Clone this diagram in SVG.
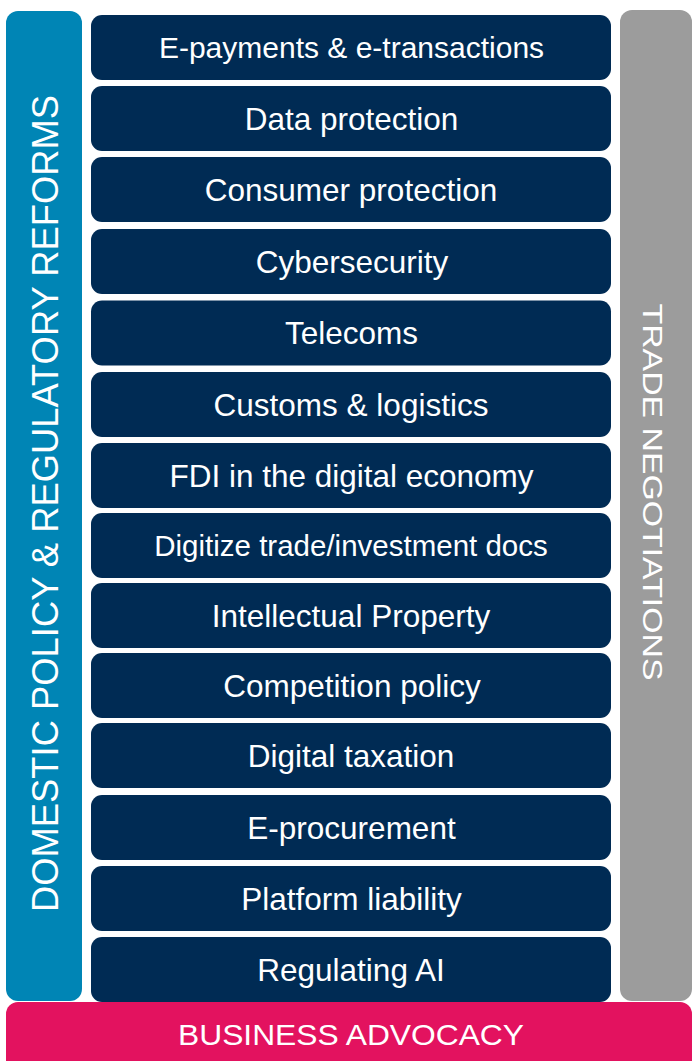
<svg xmlns="http://www.w3.org/2000/svg" width="693" height="1061" viewBox="0 0 693 1061">
  <style>
    .item rect { fill: #002B54; }
    .item text { fill: #FFFFFF; font-family: "Liberation Sans", Arial, sans-serif; font-size: 31.5px; text-anchor: middle; }
    .side { fill: #FFFFFF; font-family: "Liberation Sans", Arial, sans-serif; text-anchor: middle; }
  </style>
  <rect width="693" height="1061" fill="#FFFFFF"/>

  <!-- left pillar -->
  <g id="domestic-policy">
    <rect x="6" y="11" width="76" height="990" rx="12" fill="#0085B5"/>
    <text class="side" transform="translate(58,503.5) rotate(-90)" font-size="37" textLength="817" lengthAdjust="spacingAndGlyphs" x="0" y="0">DOMESTIC POLICY &amp; REGULATORY REFORMS</text>
  </g>

  <!-- right pillar -->
  <g id="trade-negotiations">
    <rect x="620" y="10" width="72" height="991" rx="12" fill="#9C9C9C"/>
    <text class="side" transform="translate(643,492) rotate(90)" font-size="27.5" textLength="377" lengthAdjust="spacingAndGlyphs" x="0" y="0">TRADE NEGOTIATIONS</text>
  </g>

  <!-- base -->
  <g id="business-advocacy">
    <rect x="6" y="1002" width="686" height="75" rx="12" fill="#E3125F"/>
    <text class="side" x="351" y="1045" font-size="29.5" textLength="346" lengthAdjust="spacingAndGlyphs">BUSINESS ADVOCACY</text>
  </g>

  <!-- policy areas -->
  <g id="item-epayments" class="item"><rect x="91" y="15" width="520" height="65" rx="11"/><text x="351.5" y="58" style="font-size:30px">E-payments &amp; e-transactions</text></g>
  <g id="item-data-protection" class="item"><rect x="91" y="86" width="520" height="65" rx="11"/><text x="351.5" y="129.5">Data protection</text></g>
  <g id="item-consumer-protection" class="item"><rect x="91" y="157" width="520" height="65" rx="11"/><text x="351" y="200.5">Consumer protection</text></g>
  <g id="item-cybersecurity" class="item"><rect x="91" y="229" width="520" height="65" rx="11"/><text x="352" y="272.5">Cybersecurity</text></g>
  <g id="item-telecoms" class="item"><rect x="91" y="300.5" width="520" height="65" rx="11"/><text x="351.5" y="344">Telecoms</text></g>
  <g id="item-customs" class="item"><rect x="91" y="372" width="520" height="65" rx="11"/><text x="351" y="415.5">Customs &amp; logistics</text></g>
  <g id="item-fdi" class="item"><rect x="91" y="443" width="520" height="65" rx="11"/><text x="351.5" y="486.5">FDI in the digital economy</text></g>
  <g id="item-digitize" class="item"><rect x="91" y="513" width="520" height="65" rx="11"/><text x="351" y="556" style="font-size:29.5px">Digitize trade/investment docs</text></g>
  <g id="item-ip" class="item"><rect x="91" y="583" width="520" height="65" rx="11"/><text x="351" y="626.5">Intellectual Property</text></g>
  <g id="item-competition" class="item"><rect x="91" y="653" width="520" height="65" rx="11"/><text x="352" y="696.5">Competition policy</text></g>
  <g id="item-taxation" class="item"><rect x="91" y="723" width="520" height="65" rx="11"/><text x="351" y="766.5">Digital taxation</text></g>
  <g id="item-eprocurement" class="item"><rect x="91" y="795" width="520" height="65" rx="11"/><text x="351.5" y="838.5">E-procurement</text></g>
  <g id="item-platform" class="item"><rect x="91" y="866" width="520" height="65" rx="11"/><text x="351.5" y="909.5">Platform liability</text></g>
  <g id="item-ai" class="item"><rect x="91" y="937" width="520" height="65" rx="11"/><text x="351" y="980.5">Regulating AI</text></g>
</svg>
